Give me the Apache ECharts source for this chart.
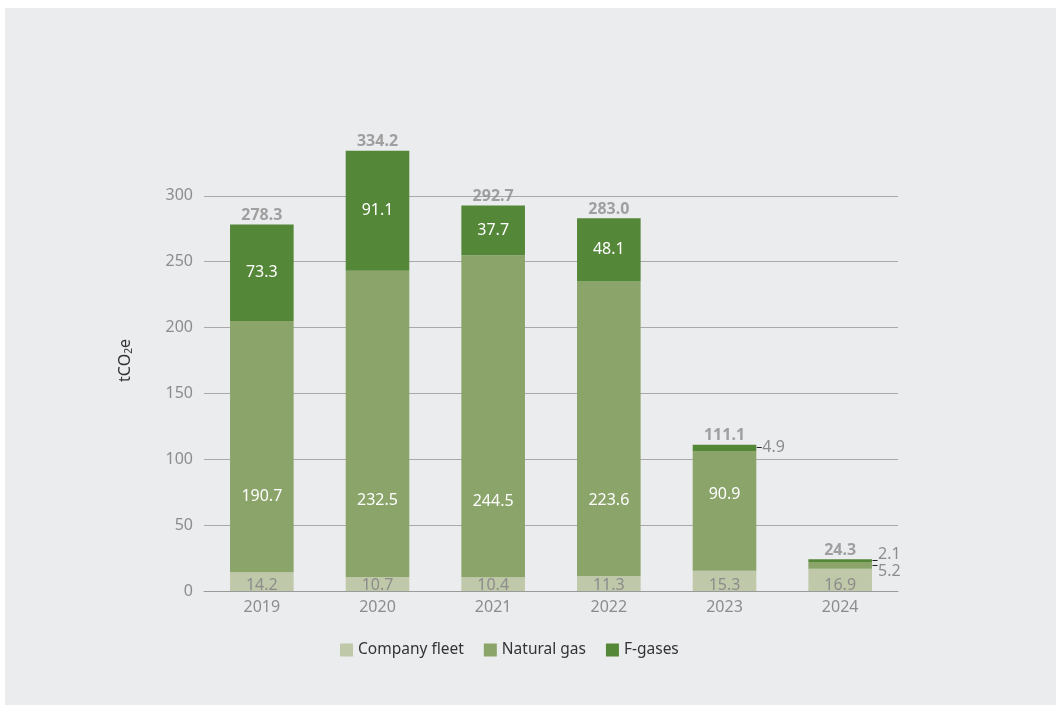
<!DOCTYPE html>
<html>
<head>
<meta charset="utf-8">
<style>
  html, body { margin: 0; padding: 0; background: #ffffff; }
  #panel { position: absolute; left: 5px; top: 8px; width: 1051px; height: 697px; background: #ebecee; }
  #chart { position: absolute; left: 0; top: 0; width: 1056px; height: 705px; }
</style>
<script src="https://cdn.jsdelivr.net/npm/echarts@6/dist/echarts.min.js"></script>
</head>
<body>
<div id="panel"></div>
<div id="chart"></div>
<script>
// Scope 1 emissions by source, tCO2e
const years = ['2019', '2020', '2021', '2022', '2023', '2024'];
const companyFleet = [14.2, 10.7, 10.4, 11.3, 15.3, 16.9];
const naturalGas = [190.7, 232.5, 244.5, 223.6, 90.9, 5.2];
const fGases = [73.3, 91.1, 37.7, 48.1, 4.9, 2.1];
const totals = [278.3, 334.2, 292.7, 283.0, 111.1, 24.3];
const yTicks = [0, 50, 100, 150, 200, 250, 300];

const FONT = '"Noto Sans", "Open Sans", sans-serif';
const FS = 16;
const GREY_TEXT = '#8c8c8c';
const COLORS = { fleet: '#bfc9a9', gas: '#8aa46a', fgas: '#558739' };

// Small values that sit outside the bar get a short leader tick and grey text.
const outsideRich = {
  l: { color: '#222', fontSize: 12, fontFamily: FONT },
  v: { color: GREY_TEXT, fontSize: FS, fontFamily: FONT },
  vu: { color: GREY_TEXT, fontSize: FS, fontFamily: FONT, padding: [0, 0, 12, 0] },
  vd: { color: GREY_TEXT, fontSize: FS, fontFamily: FONT, padding: [12, 0, 0, 0] }
};

function outsideItem(value, style) {
  return {
    value: value,
    label: {
      show: true,
      position: 'right',
      distance: 0,
      formatter: '{l|–}{' + style + '|' + value.toFixed(1) + '}',
      rich: outsideRich
    }
  };
}

const gasData = naturalGas.map((v, i) => i === 5 ? outsideItem(v, 'vd') : v);
const fgasData = fGases.map((v, i) => {
  if (i === 4) return outsideItem(v, 'v');
  if (i === 5) return outsideItem(v, 'vu');
  return v;
});

const chart = echarts.init(document.getElementById('chart'), null, { renderer: 'canvas' });

const gridColors = yTicks.map(() => '#a9a9a9').concat(['rgba(0,0,0,0)']);

chart.setOption({
  backgroundColor: 'transparent',
  textStyle: { fontFamily: FONT },
  animation: false,
  grid: { left: 204, right: 158, top: 130, bottom: 114 },
  legend: {
    top: 642,
    left: 340,
    padding: 0,
    icon: 'rect',
    itemWidth: 13,
    itemHeight: 13,
    itemGap: 20,
    textStyle: { color: '#333', fontSize: 15.5, fontFamily: FONT },
    data: ['Company fleet', 'Natural gas', 'F-gases']
  },
  xAxis: {
    type: 'category',
    data: years,
    axisLine: { show: true, lineStyle: { color: '#9a9a9a', width: 1 } },
    axisTick: { show: false },
    axisLabel: { color: GREY_TEXT, fontSize: FS, margin: 8, fontFamily: FONT }
  },
  yAxis: {
    type: 'value',
    min: 0,
    max: 350,
    interval: 50,
    name: 'tCO{sub|2}e',
    nameLocation: 'middle',
    nameGap: 70,
    nameRotate: 90,
    nameTextStyle: {
      color: '#333', fontSize: FS, fontFamily: FONT,
      rich: { sub: { fontSize: 10, color: '#333', fontFamily: FONT, padding: [8, 0, 0, 0] } }
    },
    axisLine: { show: false },
    axisTick: { show: false },
    axisLabel: {
      color: GREY_TEXT, fontSize: FS, margin: 11, fontFamily: FONT,
      formatter: v => (yTicks.indexOf(v) >= 0 ? String(v) : '')
    },
    splitLine: { show: true, lineStyle: { color: gridColors, width: 1 } }
  },
  series: [
    {
      name: 'Company fleet',
      type: 'bar',
      stack: 'total',
      barWidth: '55%',
      itemStyle: { color: COLORS.fleet },
      label: {
        show: true,
        position: 'insideBottom',
        distance: -2,
        color: GREY_TEXT,
        fontSize: FS,
        fontFamily: FONT,
        formatter: p => p.value.toFixed(1)
      },
      data: companyFleet
    },
    {
      name: 'Natural gas',
      type: 'bar',
      stack: 'total',
      itemStyle: { color: COLORS.gas },
      label: {
        show: true,
        position: 'insideBottom',
        distance: 68,
        color: '#ffffff',
        fontSize: FS,
        fontFamily: FONT,
        formatter: p => (typeof p.value === 'number' ? p.value.toFixed(1) : p.value)
      },
      data: gasData
    },
    {
      name: 'F-gases',
      type: 'bar',
      stack: 'total',
      itemStyle: { color: COLORS.fgas },
      label: {
        show: true,
        position: 'inside',
        color: '#ffffff',
        fontSize: FS,
        fontFamily: FONT,
        formatter: p => p.value.toFixed(1)
      },
      data: fgasData
    },
    {
      name: 'Total',
      type: 'scatter',
      symbolSize: 0,
      silent: true,
      z: 5,
      label: {
        show: true,
        position: 'top',
        distance: 1,
        color: GREY_TEXT,
        fontSize: FS,
        fontWeight: 'bold',
        fontFamily: FONT,
        formatter: p => p.value.toFixed(1)
      },
      data: totals
    }
  ]
});
</script>
</body>
</html>
